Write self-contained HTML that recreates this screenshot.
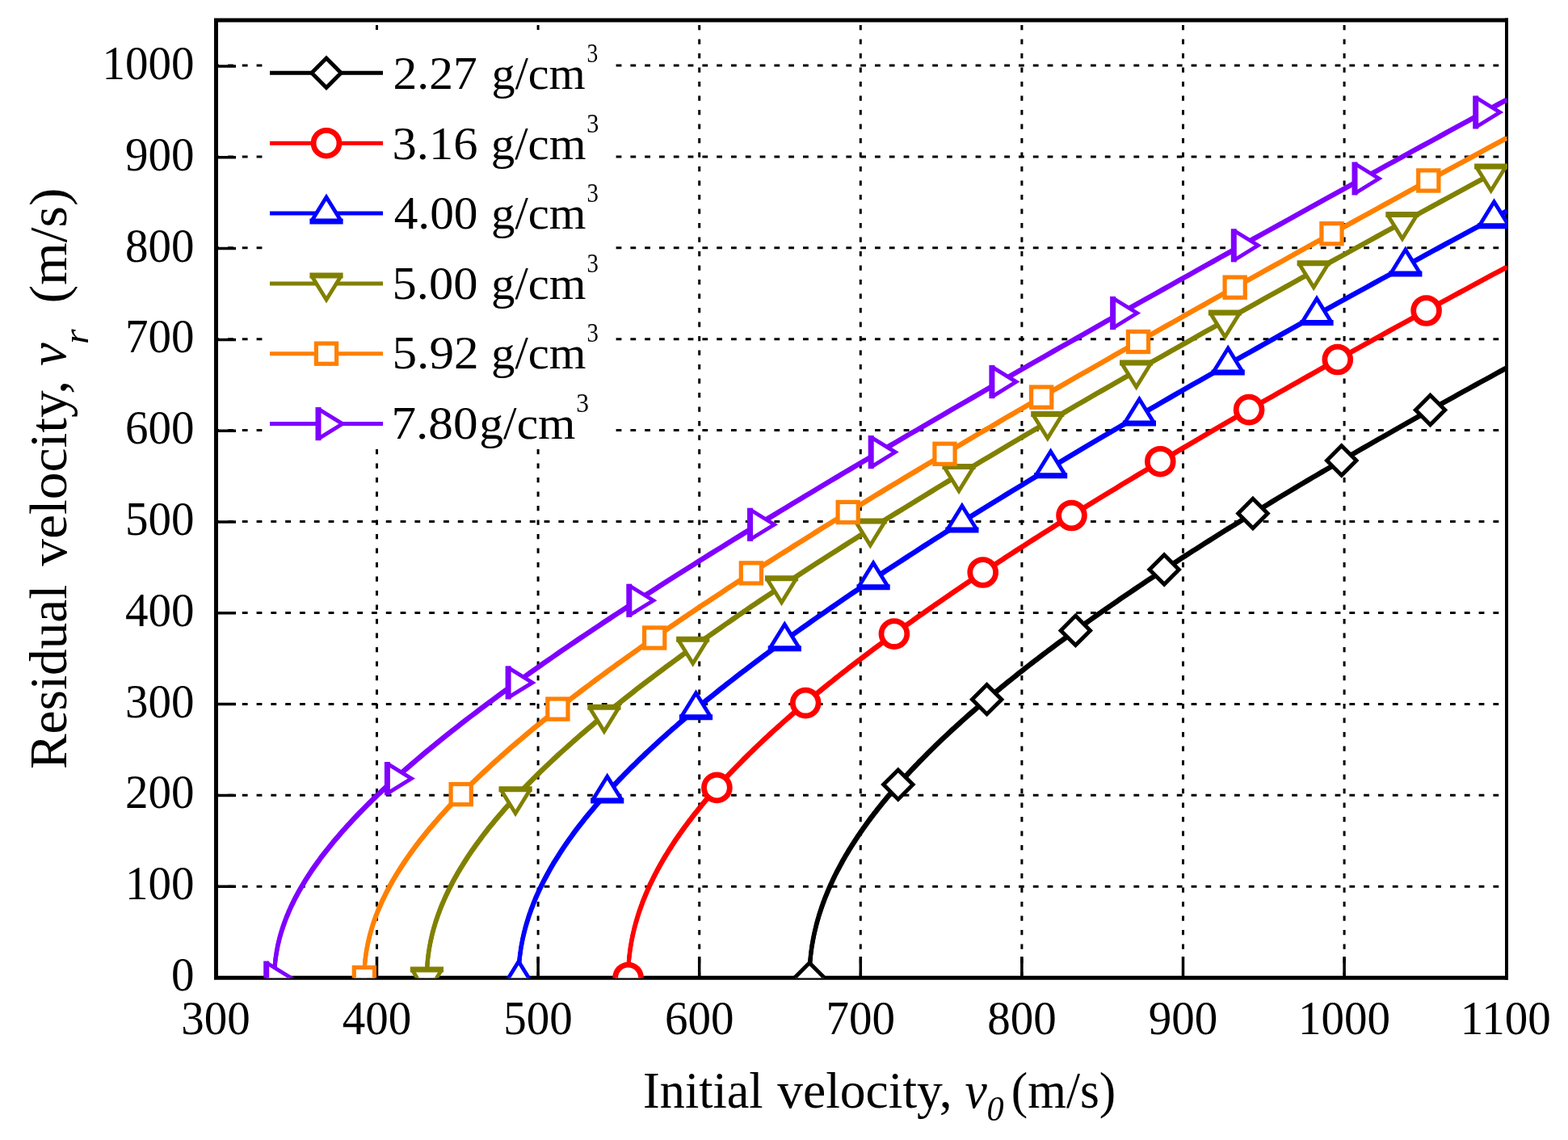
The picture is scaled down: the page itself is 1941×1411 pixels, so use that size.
<!DOCTYPE html>
<html><head><meta charset="utf-8"><title>Residual velocity vs initial velocity</title>
<style>
html,body{margin:0;padding:0;background:#fff;overflow:hidden;}
svg{display:block;}
text{font-family:"Liberation Serif","Times New Roman",serif;fill:#000;white-space:pre;}
</style></head><body>
<svg width="1941" height="1411" viewBox="0 0 1941 1411">
<rect width="1941" height="1411" fill="#fff"/>
<defs><clipPath id="pa"><rect x="267.5" y="25" width="1598.5" height="1185.5"/></clipPath></defs>
<path d="M466.5 27.5V1207.5M666.1 27.5V1207.5M865.7 27.5V1207.5M1065.3 27.5V1207.5M1264.9 27.5V1207.5M1464.5 27.5V1207.5M1664.1 27.5V1207.5" stroke="#000" stroke-width="3.0" stroke-dasharray="6.3 11.2" fill="none" stroke-dashoffset="-3.4"/>
<path d="M270 1097.2H1862.5M270 984.3H1862.5M270 871.4H1862.5M270 758.5H1862.5M270 645.5H1862.5M270 532.6H1862.5M270 419.7H1862.5M270 306.8H1862.5M270 193.9H1862.5M270 81H1862.5" stroke="#000" stroke-width="3.0" stroke-dasharray="6.8 11" fill="none" stroke-dashoffset="-12"/>
<rect x="328" y="37" width="424" height="518" fill="#fff"/>
<path d="M267.5 22.5V1212.7M265 25H1867M265 1210.2H1867" stroke="#000" stroke-width="5" fill="none"/>
<path d="M1865 22.5V1212.7" stroke="#000" stroke-width="4" fill="none"/>
<path d="M466.5 1184V1208M666.1 1184V1208M865.7 1184V1208M1065.3 1184V1208M1264.9 1184V1208M1464.5 1184V1208M1664.1 1184V1208M269 1097.2H292M269 984.4H292M269 871.6H292M269 758.8H292M269 646H292M269 533.2H292M269 420.4H292M269 307.6H292M269 194.8H292M269 82H292" stroke="#000" stroke-width="3.5" fill="none"/>
<g clip-path="url(#pa)">
<defs><path id="c_black" d="M1002 1210L1002.1 1207.5L1002.1 1204.9L1002.2 1202.4L1002.3 1199.8L1002.4 1197.3L1002.5 1194.8L1002.7 1192.2L1002.9 1189.7L1003.1 1187.2L1003.3 1184.6L1003.6 1182.1L1003.9 1179.5L1004.2 1177L1004.6 1174.5L1004.9 1171.9L1005.3 1169.4L1005.8 1166.9L1006.2 1164.3L1006.7 1161.8L1007.2 1159.2L1007.7 1156.7L1008.3 1154.1L1008.9 1151.6L1009.5 1149.1L1010.1 1146.5L1010.7 1144L1011.4 1141.4L1012.1 1138.9L1012.9 1136.3L1013.6 1133.8L1014.4 1131.2L1015.2 1128.7L1016.1 1126.1L1016.9 1123.6L1017.8 1121L1018.7 1118.4L1019.7 1115.9L1020.6 1113.3L1021.6 1110.8L1022.6 1108.2L1023.7 1105.6L1024.7 1103.1L1025.8 1100.5L1027 1097.9L1028.1 1095.4L1029.3 1092.8L1030.5 1090.2L1031.7 1087.7L1032.9 1085.1L1034.2 1082.5L1035.5 1079.9L1036.8 1077.3L1038.2 1074.8L1039.6 1072.2L1041 1069.6L1042.4 1067L1043.8 1064.4L1045.3 1061.8L1046.8 1059.2L1048.4 1056.6L1049.9 1054L1051.5 1051.4L1053.1 1048.8L1054.7 1046.2L1056.4 1043.6L1058.1 1041L1059.8 1038.4L1061.5 1035.8L1063.3 1033.1L1065.1 1030.5L1066.9 1027.9L1068.7 1025.3L1070.6 1022.6L1072.5 1020L1074.4 1017.4L1076.3 1014.7L1078.3 1012.1L1080.3 1009.5L1082.3 1006.8L1084.4 1004.2L1086.4 1001.5L1088.5 998.9L1090.7 996.2L1092.8 993.6L1095 990.9L1097.2 988.2L1099.4 985.6L1101.7 982.9L1103.9 980.2L1106.2 977.5L1108.6 974.9L1110.9 972.2L1113.3 969.5L1115.7 966.8L1118.1 964.1L1120.6 961.4L1123.1 958.7L1125.6 956L1128.1 953.3L1130.7 950.6L1133.3 947.9L1135.9 945.2L1138.5 942.4L1141.2 939.7L1143.9 937L1146.6 934.2L1149.3 931.5L1152.1 928.8L1154.9 926L1157.7 923.3L1160.5 920.5L1163.4 917.8L1166.3 915L1169.2 912.3L1172.2 909.5L1175.1 906.7L1178.1 903.9L1181.2 901.2L1184.2 898.4L1187.3 895.6L1190.4 892.8L1193.5 890L1196.7 887.2L1199.8 884.4L1203 881.6L1206.3 878.8L1209.5 876L1212.8 873.2L1216.1 870.3L1219.4 867.5L1222.8 864.7L1226.2 861.8L1229.6 859L1233 856.1L1236.5 853.3L1240 850.4L1243.5 847.6L1247 844.7L1250.6 841.8L1254.2 839L1257.8 836.1L1261.4 833.2L1265.1 830.3L1268.8 827.4L1272.5 824.5L1276.2 821.6L1280 818.7L1283.8 815.8L1287.6 812.9L1291.5 809.9L1295.3 807L1299.2 804.1L1303.2 801.1L1307.1 798.2L1311.1 795.2L1315.1 792.3L1319.1 789.3L1323.2 786.4L1327.2 783.4L1331.3 780.4L1335.5 777.4L1339.6 774.4L1343.8 771.5L1348 768.5L1352.2 765.5L1356.5 762.4L1360.8 759.4L1365.1 756.4L1369.4 753.4L1373.8 750.4L1378.2 747.3L1382.6 744.3L1387 741.2L1391.5 738.2L1396 735.1L1400.5 732.1L1405 729L1409.6 725.9L1414.2 722.8L1418.8 719.7L1423.4 716.6L1428.1 713.6L1432.8 710.4L1437.5 707.3L1442.3 704.2L1447.1 701.1L1451.8 698L1456.7 694.8L1461.5 691.7L1466.4 688.5L1471.3 685.4L1476.2 682.2L1481.2 679.1L1486.2 675.9L1491.2 672.7L1496.2 669.5L1501.2 666.3L1506.3 663.1L1511.4 659.9L1516.6 656.7L1521.7 653.5L1526.9 650.3L1532.1 647.1L1537.3 643.8L1542.6 640.6L1547.9 637.3L1553.2 634.1L1558.5 630.8L1563.9 627.6L1569.3 624.3L1574.7 621L1580.2 617.7L1585.6 614.4L1591.1 611.1L1596.6 607.8L1602.2 604.5L1607.7 601.2L1613.3 597.9L1619 594.5L1624.6 591.2L1630.3 587.8L1636 584.5L1641.7 581.1L1647.5 577.8L1653.2 574.4L1659 571L1664.9 567.6L1670.7 564.2L1676.6 560.8L1682.5 557.4L1688.4 554L1694.4 550.6L1700.4 547.1L1706.4 543.7L1712.4 540.3L1718.5 536.8L1724.5 533.3L1730.6 529.9L1736.8 526.4L1742.9 522.9L1749.1 519.4L1755.3 515.9L1761.6 512.4L1767.8 508.9L1774.1 505.4L1780.5 501.9L1786.8 498.4L1793.2 494.8L1799.6 491.3L1806 487.7L1812.4 484.2L1818.9 480.6L1825.4 477L1831.9 473.4L1838.5 469.9L1845 466.3L1851.6 462.6L1858.2 459L1864.9 455.4"/></defs><g fill="none" stroke="#000000" stroke-linejoin="round"><use href="#c_black" stroke-width="5.0"/><g stroke-width="1.4"><use href="#c_black" x="-1.8" y="-1.8"/><use href="#c_black" x="1.8" y="1.8"/><use href="#c_black" x="-1.8" y="1.8"/><use href="#c_black" x="1.8" y="-1.8"/></g></g>
<g fill="#fff"><path d="M1002 1191.8L1020.3 1210L1002 1228.2L983.8 1210Z"/><path d="M1111.8 952.9L1130.1 971.1L1111.8 989.4L1093.6 971.1Z"/><path d="M1221.6 847.4L1239.9 865.7L1221.6 883.9L1203.4 865.7Z"/><path d="M1331.4 762.1L1349.6 780.4L1331.4 798.6L1313.1 780.4Z"/><path d="M1441.2 686.7L1459.4 704.9L1441.2 723.2L1422.9 704.9Z"/><path d="M1550.9 617.2L1569.2 635.5L1550.9 653.7L1532.7 635.5Z"/><path d="M1660.7 551.8L1679 570L1660.7 588.3L1642.5 570Z"/><path d="M1770.5 489.2L1788.8 507.4L1770.5 525.7L1752.3 507.4Z"/></g><g fill="none" stroke="#000000"><path d="M1002 1191.8L1020.3 1210L1002 1228.2L983.8 1210Z" stroke-width="4.9" stroke-linejoin="miter"/><path d="M1111.8 952.9L1130.1 971.1L1111.8 989.4L1093.6 971.1Z" stroke-width="4.9" stroke-linejoin="miter"/><path d="M1221.6 847.4L1239.9 865.7L1221.6 883.9L1203.4 865.7Z" stroke-width="4.9" stroke-linejoin="miter"/><path d="M1331.4 762.1L1349.6 780.4L1331.4 798.6L1313.1 780.4Z" stroke-width="4.9" stroke-linejoin="miter"/><path d="M1441.2 686.7L1459.4 704.9L1441.2 723.2L1422.9 704.9Z" stroke-width="4.9" stroke-linejoin="miter"/><path d="M1550.9 617.2L1569.2 635.5L1550.9 653.7L1532.7 635.5Z" stroke-width="4.9" stroke-linejoin="miter"/><path d="M1660.7 551.8L1679 570L1660.7 588.3L1642.5 570Z" stroke-width="4.9" stroke-linejoin="miter"/><path d="M1770.5 489.2L1788.8 507.4L1770.5 525.7L1752.3 507.4Z" stroke-width="4.9" stroke-linejoin="miter"/></g>
<defs><path id="c_red" d="M777.6 1210L777.6 1207.2L777.7 1204.4L777.7 1201.6L777.9 1198.7L778 1195.9L778.2 1193.1L778.4 1190.3L778.6 1187.5L778.9 1184.7L779.2 1181.9L779.6 1179.1L779.9 1176.3L780.3 1173.5L780.8 1170.7L781.2 1167.9L781.7 1165.1L782.3 1162.3L782.8 1159.5L783.4 1156.7L784.1 1153.9L784.7 1151.1L785.4 1148.3L786.2 1145.5L786.9 1142.7L787.7 1139.9L788.6 1137.1L789.4 1134.3L790.3 1131.5L791.2 1128.6L792.2 1125.8L793.2 1123L794.2 1120.2L795.2 1117.4L796.3 1114.5L797.5 1111.7L798.6 1108.9L799.8 1106.1L801 1103.2L802.2 1100.4L803.5 1097.6L804.8 1094.7L806.2 1091.9L807.6 1089.1L809 1086.2L810.4 1083.4L811.9 1080.5L813.4 1077.7L814.9 1074.8L816.5 1072L818.1 1069.1L819.8 1066.2L821.4 1063.4L823.1 1060.5L824.9 1057.6L826.6 1054.8L828.4 1051.9L830.3 1049L832.1 1046.1L834 1043.2L835.9 1040.3L837.9 1037.4L839.9 1034.5L841.9 1031.6L844 1028.7L846.1 1025.8L848.2 1022.9L850.4 1020L852.5 1017.1L854.8 1014.2L857 1011.2L859.3 1008.3L861.6 1005.4L864 1002.4L866.4 999.5L868.8 996.5L871.2 993.6L873.7 990.6L876.2 987.7L878.8 984.7L881.3 981.7L883.9 978.7L886.6 975.8L889.3 972.8L892 969.8L894.7 966.8L897.5 963.8L900.3 960.8L903.1 957.8L906 954.8L908.9 951.8L911.8 948.7L914.8 945.7L917.8 942.7L920.8 939.6L923.9 936.6L927 933.5L930.1 930.5L933.3 927.4L936.5 924.3L939.7 921.3L942.9 918.2L946.2 915.1L949.6 912L952.9 908.9L956.3 905.8L959.7 902.7L963.2 899.6L966.7 896.5L970.2 893.3L973.7 890.2L977.3 887.1L980.9 883.9L984.6 880.8L988.2 877.6L992 874.5L995.7 871.3L999.5 868.1L1003.3 864.9L1007.1 861.7L1011 858.5L1014.9 855.3L1018.8 852.1L1022.8 848.9L1026.8 845.7L1030.9 842.5L1034.9 839.2L1039 836L1043.2 832.7L1047.3 829.5L1051.5 826.2L1055.8 822.9L1060 819.6L1064.3 816.4L1068.6 813.1L1073 809.8L1077.4 806.5L1081.8 803.1L1086.3 799.8L1090.8 796.5L1095.3 793.1L1099.8 789.8L1104.4 786.4L1109 783.1L1113.7 779.7L1118.4 776.3L1123.1 772.9L1127.9 769.6L1132.6 766.2L1137.4 762.7L1142.3 759.3L1147.2 755.9L1152.1 752.5L1157 749L1162 745.6L1167 742.1L1172.1 738.7L1177.1 735.2L1182.2 731.7L1187.4 728.2L1192.5 724.7L1197.7 721.2L1203 717.7L1208.2 714.2L1213.5 710.6L1218.9 707.1L1224.2 703.5L1229.6 700L1235.1 696.4L1240.5 692.8L1246 689.2L1251.6 685.6L1257.1 682L1262.7 678.4L1268.3 674.8L1274 671.2L1279.7 667.5L1285.4 663.9L1291.2 660.2L1296.9 656.6L1302.8 652.9L1308.6 649.2L1314.5 645.5L1320.4 641.8L1326.4 638.1L1332.3 634.4L1338.4 630.6L1344.4 626.9L1350.5 623.1L1356.6 619.4L1362.7 615.6L1368.9 611.8L1375.1 608.1L1381.4 604.3L1387.6 600.4L1393.9 596.6L1400.3 592.8L1406.6 589L1413 585.1L1419.5 581.3L1425.9 577.4L1432.4 573.5L1439 569.6L1445.5 565.7L1452.1 561.8L1458.8 557.9L1465.4 554L1472.1 550.1L1478.9 546.1L1485.6 542.1L1492.4 538.2L1499.2 534.2L1506.1 530.2L1513 526.2L1519.9 522.2L1526.8 518.2L1533.8 514.2L1540.9 510.1L1547.9 506.1L1555 502L1562.1 497.9L1569.2 493.9L1576.4 489.8L1583.6 485.7L1590.9 481.6L1598.2 477.4L1605.5 473.3L1612.8 469.2L1620.2 465L1627.6 460.8L1635 456.7L1642.5 452.5L1650 448.3L1657.6 444.1L1665.1 439.9L1672.7 435.6L1680.4 431.4L1688 427.1L1695.7 422.9L1703.5 418.6L1711.2 414.3L1719 410L1726.8 405.7L1734.7 401.4L1742.6 397.1L1750.5 392.7L1758.5 388.4L1766.5 384L1774.5 379.6L1782.6 375.2L1790.6 370.8L1798.8 366.4L1806.9 362L1815.1 357.6L1823.3 353.1L1831.6 348.7L1839.9 344.2L1848.2 339.7L1856.5 335.3L1864.9 330.8"/></defs><g fill="none" stroke="#FF0000" stroke-linejoin="round"><use href="#c_red" stroke-width="5.0"/><g stroke-width="1.4"><use href="#c_red" x="-1.8" y="-1.8"/><use href="#c_red" x="1.8" y="1.8"/><use href="#c_red" x="-1.8" y="1.8"/><use href="#c_red" x="1.8" y="-1.8"/></g></g>
<g fill="#fff"><circle cx="777.6" cy="1210" r="15.9"/><circle cx="887.4" cy="974.9" r="15.9"/><circle cx="997.2" cy="870.1" r="15.9"/><circle cx="1106.9" cy="784.6" r="15.9"/><circle cx="1216.7" cy="708.5" r="15.9"/><circle cx="1326.5" cy="638" r="15.9"/><circle cx="1436.3" cy="571.2" r="15.9"/><circle cx="1546.1" cy="507.1" r="15.9"/><circle cx="1655.8" cy="445" r="15.9"/><circle cx="1765.6" cy="384.5" r="15.9"/></g><g fill="none" stroke="#FF0000"><circle cx="777.6" cy="1210" r="15.9" stroke-width="6.8"/><circle cx="887.4" cy="974.9" r="15.9" stroke-width="6.8"/><circle cx="997.2" cy="870.1" r="15.9" stroke-width="6.8"/><circle cx="1106.9" cy="784.6" r="15.9" stroke-width="6.8"/><circle cx="1216.7" cy="708.5" r="15.9" stroke-width="6.8"/><circle cx="1326.5" cy="638" r="15.9" stroke-width="6.8"/><circle cx="1436.3" cy="571.2" r="15.9" stroke-width="6.8"/><circle cx="1546.1" cy="507.1" r="15.9" stroke-width="6.8"/><circle cx="1655.8" cy="445" r="15.9" stroke-width="6.8"/><circle cx="1765.6" cy="384.5" r="15.9" stroke-width="6.8"/></g>
<defs><path id="c_blue" d="M642 1210L642 1207.1L642 1204.3L642.1 1201.4L642.2 1198.5L642.4 1195.6L642.6 1192.8L642.9 1189.9L643.1 1187L643.4 1184.1L643.8 1181.3L644.2 1178.4L644.6 1175.5L645 1172.6L645.5 1169.8L646.1 1166.9L646.6 1164L647.2 1161.1L647.9 1158.2L648.5 1155.3L649.3 1152.5L650 1149.6L650.8 1146.7L651.6 1143.8L652.5 1140.9L653.4 1138L654.3 1135.1L655.2 1132.2L656.3 1129.3L657.3 1126.4L658.4 1123.5L659.5 1120.6L660.6 1117.7L661.8 1114.8L663 1111.8L664.3 1108.9L665.6 1106L666.9 1103.1L668.3 1100.2L669.7 1097.2L671.1 1094.3L672.6 1091.4L674.1 1088.4L675.7 1085.5L677.3 1082.5L678.9 1079.6L680.5 1076.6L682.2 1073.7L684 1070.7L685.7 1067.7L687.5 1064.8L689.4 1061.8L691.3 1058.8L693.2 1055.8L695.1 1052.9L697.1 1049.9L699.1 1046.9L701.2 1043.9L703.3 1040.9L705.4 1037.9L707.6 1034.9L709.8 1031.8L712 1028.8L714.3 1025.8L716.6 1022.8L719 1019.7L721.4 1016.7L723.8 1013.6L726.3 1010.6L728.8 1007.5L731.3 1004.5L733.9 1001.4L736.5 998.3L739.1 995.2L741.8 992.2L744.5 989.1L747.3 986L750 982.9L752.9 979.8L755.7 976.7L758.6 973.5L761.6 970.4L764.5 967.3L767.5 964.1L770.6 961L773.7 957.8L776.8 954.7L779.9 951.5L783.1 948.4L786.4 945.2L789.6 942L792.9 938.8L796.3 935.6L799.6 932.4L803 929.2L806.5 926L810 922.7L813.5 919.5L817 916.3L820.6 913L824.3 909.8L827.9 906.5L831.6 903.2L835.4 900L839.1 896.7L843 893.4L846.8 890.1L850.7 886.8L854.6 883.5L858.6 880.1L862.6 876.8L866.6 873.5L870.6 870.1L874.7 866.7L878.9 863.4L883.1 860L887.3 856.6L891.5 853.2L895.8 849.8L900.1 846.4L904.5 843L908.9 839.6L913.3 836.2L917.8 832.7L922.3 829.3L926.8 825.8L931.4 822.3L936 818.8L940.7 815.4L945.3 811.9L950.1 808.4L954.8 804.8L959.6 801.3L964.4 797.8L969.3 794.2L974.2 790.7L979.2 787.1L984.1 783.5L989.1 780L994.2 776.4L999.3 772.8L1004.4 769.2L1009.6 765.5L1014.8 761.9L1020 758.3L1025.3 754.6L1030.6 751L1035.9 747.3L1041.3 743.6L1046.7 739.9L1052.2 736.2L1057.6 732.5L1063.2 728.8L1068.7 725L1074.3 721.3L1080 717.5L1085.6 713.8L1091.3 710L1097.1 706.2L1102.9 702.4L1108.7 698.6L1114.5 694.8L1120.4 691L1126.3 687.1L1132.3 683.3L1138.3 679.4L1144.3 675.5L1150.4 671.6L1156.5 667.7L1162.6 663.8L1168.8 659.9L1175 656L1181.3 652L1187.6 648.1L1193.9 644.1L1200.3 640.1L1206.7 636.2L1213.1 632.2L1219.6 628.2L1226.1 624.1L1232.6 620.1L1239.2 616.1L1245.8 612L1252.5 607.9L1259.2 603.8L1265.9 599.8L1272.7 595.6L1279.5 591.5L1286.3 587.4L1293.2 583.3L1300.1 579.1L1307 574.9L1314 570.8L1321 566.6L1328.1 562.4L1335.2 558.2L1342.3 553.9L1349.5 549.7L1356.7 545.4L1363.9 541.2L1371.2 536.9L1378.5 532.6L1385.8 528.3L1393.2 524L1400.7 519.7L1408.1 515.3L1415.6 511L1423.1 506.6L1430.7 502.3L1438.3 497.9L1445.9 493.5L1453.6 489L1461.3 484.6L1469.1 480.2L1476.9 475.7L1484.7 471.3L1492.5 466.8L1500.4 462.3L1508.4 457.8L1516.3 453.3L1524.3 448.7L1532.4 444.2L1540.4 439.6L1548.6 435.1L1556.7 430.5L1564.9 425.9L1573.1 421.3L1581.4 416.6L1589.7 412L1598 407.3L1606.4 402.7L1614.8 398L1623.2 393.3L1631.7 388.6L1640.2 383.9L1648.8 379.1L1657.3 374.4L1666 369.6L1674.6 364.9L1683.3 360.1L1692.1 355.3L1700.8 350.5L1709.6 345.6L1718.5 340.8L1727.3 335.9L1736.3 331.1L1745.2 326.2L1754.2 321.3L1763.2 316.4L1772.3 311.4L1781.4 306.5L1790.5 301.5L1799.7 296.6L1808.9 291.6L1818.1 286.6L1827.4 281.6L1836.7 276.6L1846.1 271.5L1855.5 266.5L1864.9 261.4"/></defs><g fill="none" stroke="#0000FF" stroke-linejoin="round"><use href="#c_blue" stroke-width="5.0"/><g stroke-width="1.4"><use href="#c_blue" x="-1.8" y="-1.8"/><use href="#c_blue" x="1.8" y="1.8"/><use href="#c_blue" x="-1.8" y="1.8"/><use href="#c_blue" x="1.8" y="-1.8"/></g></g>
<g fill="#fff"><path d="M642 1190L623.5 1220L660.5 1220Z"/><path d="M751.7 961L733.2 991L770.2 991Z"/><path d="M861.5 857.7L843 887.7L880 887.7Z"/><path d="M971.3 772.8L952.8 802.8L989.8 802.8Z"/><path d="M1081.1 696.8L1062.6 726.8L1099.6 726.8Z"/><path d="M1190.9 626L1172.4 656L1209.4 656Z"/><path d="M1300.6 558.8L1282.1 588.8L1319.1 588.8Z"/><path d="M1410.4 494L1391.9 524L1428.9 524Z"/><path d="M1520.2 431.1L1501.7 461.1L1538.7 461.1Z"/><path d="M1630 369.5L1611.5 399.5L1648.5 399.5Z"/><path d="M1739.8 309.1L1721.3 339.1L1758.3 339.1Z"/><path d="M1849.5 249.7L1831 279.7L1868 279.7Z"/></g><g fill="none" stroke="#0000FF"><path d="M623.5 1220L642 1190L660.5 1220" stroke-width="4.8" stroke-linejoin="miter" stroke-linecap="butt"/><path d="M621.4 1220L662.6 1220" stroke-width="7.0" stroke-linecap="butt"/><path d="M733.2 991L751.7 961L770.2 991" stroke-width="4.8" stroke-linejoin="miter" stroke-linecap="butt"/><path d="M731.1 991L772.3 991" stroke-width="7.0" stroke-linecap="butt"/><path d="M843 887.7L861.5 857.7L880 887.7" stroke-width="4.8" stroke-linejoin="miter" stroke-linecap="butt"/><path d="M840.9 887.7L882.1 887.7" stroke-width="7.0" stroke-linecap="butt"/><path d="M952.8 802.8L971.3 772.8L989.8 802.8" stroke-width="4.8" stroke-linejoin="miter" stroke-linecap="butt"/><path d="M950.7 802.8L991.9 802.8" stroke-width="7.0" stroke-linecap="butt"/><path d="M1062.6 726.8L1081.1 696.8L1099.6 726.8" stroke-width="4.8" stroke-linejoin="miter" stroke-linecap="butt"/><path d="M1060.5 726.8L1101.7 726.8" stroke-width="7.0" stroke-linecap="butt"/><path d="M1172.4 656L1190.9 626L1209.4 656" stroke-width="4.8" stroke-linejoin="miter" stroke-linecap="butt"/><path d="M1170.3 656L1211.5 656" stroke-width="7.0" stroke-linecap="butt"/><path d="M1282.1 588.8L1300.6 558.8L1319.1 588.8" stroke-width="4.8" stroke-linejoin="miter" stroke-linecap="butt"/><path d="M1280 588.8L1321.2 588.8" stroke-width="7.0" stroke-linecap="butt"/><path d="M1391.9 524L1410.4 494L1428.9 524" stroke-width="4.8" stroke-linejoin="miter" stroke-linecap="butt"/><path d="M1389.8 524L1431 524" stroke-width="7.0" stroke-linecap="butt"/><path d="M1501.7 461.1L1520.2 431.1L1538.7 461.1" stroke-width="4.8" stroke-linejoin="miter" stroke-linecap="butt"/><path d="M1499.6 461.1L1540.8 461.1" stroke-width="7.0" stroke-linecap="butt"/><path d="M1611.5 399.5L1630 369.5L1648.5 399.5" stroke-width="4.8" stroke-linejoin="miter" stroke-linecap="butt"/><path d="M1609.4 399.5L1650.6 399.5" stroke-width="7.0" stroke-linecap="butt"/><path d="M1721.3 339.1L1739.8 309.1L1758.3 339.1" stroke-width="4.8" stroke-linejoin="miter" stroke-linecap="butt"/><path d="M1719.2 339.1L1760.4 339.1" stroke-width="7.0" stroke-linecap="butt"/><path d="M1831 279.7L1849.5 249.7L1868 279.7" stroke-width="4.8" stroke-linejoin="miter" stroke-linecap="butt"/><path d="M1828.9 279.7L1870.1 279.7" stroke-width="7.0" stroke-linecap="butt"/></g>
<defs><path id="c_olive" d="M528.4 1210L528.4 1207.1L528.4 1204.1L528.5 1201.2L528.7 1198.3L528.9 1195.3L529.1 1192.4L529.3 1189.5L529.6 1186.5L530 1183.6L530.3 1180.7L530.8 1177.8L531.2 1174.8L531.7 1171.9L532.3 1169L532.8 1166L533.5 1163.1L534.1 1160.2L534.8 1157.2L535.5 1154.3L536.3 1151.4L537.1 1148.4L538 1145.5L538.9 1142.5L539.8 1139.6L540.8 1136.7L541.8 1133.7L542.9 1130.8L544 1127.8L545.1 1124.8L546.3 1121.9L547.5 1118.9L548.8 1116L550.1 1113L551.4 1110L552.8 1107L554.2 1104.1L555.6 1101.1L557.1 1098.1L558.7 1095.1L560.2 1092.1L561.8 1089.1L563.5 1086.1L565.2 1083.1L566.9 1080.1L568.7 1077.1L570.5 1074.1L572.4 1071.1L574.3 1068L576.2 1065L578.2 1062L580.2 1058.9L582.2 1055.9L584.3 1052.8L586.5 1049.8L588.6 1046.7L590.8 1043.7L593.1 1040.6L595.4 1037.5L597.7 1034.4L600.1 1031.3L602.5 1028.2L604.9 1025.1L607.4 1022L610 1018.9L612.5 1015.8L615.1 1012.7L617.8 1009.6L620.5 1006.4L623.2 1003.3L626 1000.1L628.8 997L631.6 993.8L634.5 990.6L637.5 987.5L640.4 984.3L643.4 981.1L646.5 977.9L649.6 974.7L652.7 971.5L655.9 968.3L659.1 965L662.3 961.8L665.6 958.6L668.9 955.3L672.3 952L675.7 948.8L679.2 945.5L682.6 942.2L686.2 938.9L689.7 935.6L693.3 932.3L697 929L700.7 925.7L704.4 922.4L708.2 919L712 915.7L715.8 912.3L719.7 908.9L723.6 905.6L727.6 902.2L731.6 898.8L735.6 895.4L739.7 891.9L743.9 888.5L748 885.1L752.2 881.6L756.5 878.2L760.8 874.7L765.1 871.3L769.4 867.8L773.8 864.3L778.3 860.8L782.8 857.3L787.3 853.7L791.9 850.2L796.5 846.7L801.1 843.1L805.8 839.6L810.5 836L815.3 832.4L820.1 828.8L824.9 825.2L829.8 821.6L834.7 818L839.7 814.3L844.7 810.7L849.7 807L854.8 803.3L859.9 799.6L865.1 796L870.3 792.2L875.5 788.5L880.8 784.8L886.1 781.1L891.5 777.3L896.9 773.5L902.3 769.8L907.8 766L913.3 762.2L918.9 758.4L924.5 754.5L930.1 750.7L935.8 746.9L941.5 743L947.3 739.1L953.1 735.3L958.9 731.4L964.8 727.5L970.7 723.5L976.7 719.6L982.6 715.7L988.7 711.7L994.8 707.7L1000.9 703.7L1007 699.7L1013.2 695.7L1019.5 691.7L1025.7 687.7L1032.1 683.6L1038.4 679.6L1044.8 675.5L1051.2 671.4L1057.7 667.3L1064.2 663.2L1070.8 659.1L1077.4 654.9L1084 650.8L1090.7 646.6L1097.4 642.4L1104.2 638.2L1111 634L1117.8 629.8L1124.7 625.6L1131.6 621.3L1138.5 617.1L1145.5 612.8L1152.6 608.5L1159.6 604.2L1166.7 599.9L1173.9 595.5L1181.1 591.2L1188.3 586.8L1195.6 582.4L1202.9 578.1L1210.3 573.7L1217.7 569.2L1225.1 564.8L1232.6 560.4L1240.1 555.9L1247.6 551.4L1255.2 546.9L1262.8 542.4L1270.5 537.9L1278.2 533.4L1286 528.8L1293.8 524.3L1301.6 519.7L1309.5 515.1L1317.4 510.5L1325.3 505.9L1333.3 501.2L1341.3 496.6L1349.4 491.9L1357.5 487.2L1365.7 482.5L1373.9 477.8L1382.1 473.1L1390.4 468.3L1398.7 463.6L1407 458.8L1415.4 454L1423.8 449.2L1432.3 444.4L1440.8 439.6L1449.4 434.7L1457.9 429.8L1466.6 425L1475.2 420.1L1483.9 415.2L1492.7 410.2L1501.5 405.3L1510.3 400.3L1519.2 395.3L1528.1 390.4L1537 385.3L1546 380.3L1555 375.3L1564.1 370.2L1573.2 365.2L1582.4 360.1L1591.5 355L1600.8 349.9L1610 344.7L1619.3 339.6L1628.7 334.4L1638.1 329.2L1647.5 324L1656.9 318.8L1666.5 313.6L1676 308.3L1685.6 303.1L1695.2 297.8L1704.9 292.5L1714.6 287.2L1724.3 281.8L1734.1 276.5L1743.9 271.1L1753.8 265.8L1763.7 260.4L1773.6 255L1783.6 249.5L1793.6 244.1L1803.7 238.6L1813.8 233.1L1823.9 227.6L1834.1 222.1L1844.3 216.6L1854.6 211.1L1864.9 205.5"/></defs><g fill="none" stroke="#808000" stroke-linejoin="round"><use href="#c_olive" stroke-width="5.0"/><g stroke-width="1.4"><use href="#c_olive" x="-1.8" y="-1.8"/><use href="#c_olive" x="1.8" y="1.8"/><use href="#c_olive" x="-1.8" y="1.8"/><use href="#c_olive" x="1.8" y="-1.8"/></g></g>
<g fill="#fff"><path d="M528.4 1230L546.9 1200L509.9 1200Z"/><path d="M638.1 1006.7L656.6 976.7L619.6 976.7Z"/><path d="M747.9 905.2L766.4 875.2L729.4 875.2Z"/><path d="M857.7 821.2L876.2 791.2L839.2 791.2Z"/><path d="M967.5 745.7L986 715.7L949 715.7Z"/><path d="M1077.3 675L1095.8 645L1058.8 645Z"/><path d="M1187 607.6L1205.5 577.6L1168.5 577.6Z"/><path d="M1296.8 542.5L1315.3 512.5L1278.3 512.5Z"/><path d="M1406.6 479L1425.1 449L1388.1 449Z"/><path d="M1516.4 416.9L1534.9 386.9L1497.9 386.9Z"/><path d="M1626.2 355.8L1644.7 325.8L1607.7 325.8Z"/><path d="M1735.9 295.5L1754.4 265.5L1717.4 265.5Z"/><path d="M1845.7 235.9L1864.2 205.9L1827.2 205.9Z"/></g><g fill="none" stroke="#808000"><path d="M546.9 1200L528.4 1230L509.9 1200" stroke-width="4.8" stroke-linejoin="miter" stroke-linecap="butt"/><path d="M549 1200L507.8 1200" stroke-width="7.0" stroke-linecap="butt"/><path d="M656.6 976.7L638.1 1006.7L619.6 976.7" stroke-width="4.8" stroke-linejoin="miter" stroke-linecap="butt"/><path d="M658.7 976.7L617.5 976.7" stroke-width="7.0" stroke-linecap="butt"/><path d="M766.4 875.2L747.9 905.2L729.4 875.2" stroke-width="4.8" stroke-linejoin="miter" stroke-linecap="butt"/><path d="M768.5 875.2L727.3 875.2" stroke-width="7.0" stroke-linecap="butt"/><path d="M876.2 791.2L857.7 821.2L839.2 791.2" stroke-width="4.8" stroke-linejoin="miter" stroke-linecap="butt"/><path d="M878.3 791.2L837.1 791.2" stroke-width="7.0" stroke-linecap="butt"/><path d="M986 715.7L967.5 745.7L949 715.7" stroke-width="4.8" stroke-linejoin="miter" stroke-linecap="butt"/><path d="M988.1 715.7L946.9 715.7" stroke-width="7.0" stroke-linecap="butt"/><path d="M1095.8 645L1077.3 675L1058.8 645" stroke-width="4.8" stroke-linejoin="miter" stroke-linecap="butt"/><path d="M1097.9 645L1056.7 645" stroke-width="7.0" stroke-linecap="butt"/><path d="M1205.5 577.6L1187 607.6L1168.5 577.6" stroke-width="4.8" stroke-linejoin="miter" stroke-linecap="butt"/><path d="M1207.6 577.6L1166.4 577.6" stroke-width="7.0" stroke-linecap="butt"/><path d="M1315.3 512.5L1296.8 542.5L1278.3 512.5" stroke-width="4.8" stroke-linejoin="miter" stroke-linecap="butt"/><path d="M1317.4 512.5L1276.2 512.5" stroke-width="7.0" stroke-linecap="butt"/><path d="M1425.1 449L1406.6 479L1388.1 449" stroke-width="4.8" stroke-linejoin="miter" stroke-linecap="butt"/><path d="M1427.2 449L1386 449" stroke-width="7.0" stroke-linecap="butt"/><path d="M1534.9 386.9L1516.4 416.9L1497.9 386.9" stroke-width="4.8" stroke-linejoin="miter" stroke-linecap="butt"/><path d="M1537 386.9L1495.8 386.9" stroke-width="7.0" stroke-linecap="butt"/><path d="M1644.7 325.8L1626.2 355.8L1607.7 325.8" stroke-width="4.8" stroke-linejoin="miter" stroke-linecap="butt"/><path d="M1646.8 325.8L1605.6 325.8" stroke-width="7.0" stroke-linecap="butt"/><path d="M1754.4 265.5L1735.9 295.5L1717.4 265.5" stroke-width="4.8" stroke-linejoin="miter" stroke-linecap="butt"/><path d="M1756.5 265.5L1715.3 265.5" stroke-width="7.0" stroke-linecap="butt"/><path d="M1864.2 205.9L1845.7 235.9L1827.2 205.9" stroke-width="4.8" stroke-linejoin="miter" stroke-linecap="butt"/><path d="M1866.3 205.9L1825.1 205.9" stroke-width="7.0" stroke-linecap="butt"/></g>
<defs><path id="c_orange" d="M450.9 1210L450.9 1207.1L451 1204.2L451.1 1201.4L451.2 1198.5L451.4 1195.6L451.7 1192.7L451.9 1189.8L452.2 1186.9L452.6 1184L453 1181.1L453.4 1178.2L453.9 1175.3L454.5 1172.4L455 1169.5L455.6 1166.6L456.3 1163.7L457 1160.7L457.7 1157.8L458.5 1154.9L459.3 1152L460.2 1149.1L461.1 1146.1L462 1143.2L463 1140.3L464.1 1137.3L465.1 1134.4L466.3 1131.5L467.4 1128.5L468.6 1125.6L469.9 1122.6L471.2 1119.7L472.5 1116.7L473.8 1113.7L475.3 1110.8L476.7 1107.8L478.2 1104.8L479.8 1101.8L481.3 1098.8L483 1095.9L484.6 1092.9L486.3 1089.9L488.1 1086.9L489.9 1083.8L491.7 1080.8L493.6 1077.8L495.5 1074.8L497.5 1071.8L499.5 1068.7L501.5 1065.7L503.6 1062.6L505.7 1059.6L507.9 1056.5L510.1 1053.5L512.4 1050.4L514.7 1047.3L517 1044.2L519.4 1041.1L521.8 1038L524.3 1034.9L526.8 1031.8L529.3 1028.7L531.9 1025.6L534.6 1022.4L537.2 1019.3L540 1016.2L542.7 1013L545.5 1009.8L548.4 1006.7L551.3 1003.5L554.2 1000.3L557.2 997.1L560.2 993.9L563.2 990.7L566.3 987.5L569.5 984.3L572.6 981.1L575.9 977.8L579.1 974.6L582.4 971.3L585.8 968L589.2 964.8L592.6 961.5L596.1 958.2L599.6 954.9L603.2 951.6L606.8 948.2L610.4 944.9L614.1 941.6L617.9 938.2L621.6 934.9L625.4 931.5L629.3 928.1L633.2 924.7L637.1 921.3L641.1 917.9L645.2 914.5L649.2 911.1L653.3 907.6L657.5 904.2L661.7 900.7L665.9 897.3L670.2 893.8L674.5 890.3L678.9 886.8L683.3 883.3L687.7 879.7L692.2 876.2L696.8 872.6L701.3 869.1L706 865.5L710.6 861.9L715.3 858.3L720.1 854.7L724.8 851.1L729.7 847.5L734.5 843.8L739.4 840.2L744.4 836.5L749.4 832.8L754.4 829.2L759.5 825.5L764.6 821.7L769.8 818L775 814.3L780.3 810.5L785.5 806.8L790.9 803L796.3 799.2L801.7 795.4L807.1 791.6L812.6 787.8L818.2 783.9L823.8 780.1L829.4 776.2L835.1 772.3L840.8 768.4L846.5 764.5L852.3 760.6L858.2 756.7L864 752.7L870 748.7L875.9 744.8L881.9 740.8L888 736.8L894.1 732.8L900.2 728.7L906.4 724.7L912.6 720.6L918.9 716.6L925.2 712.5L931.5 708.4L937.9 704.3L944.3 700.1L950.8 696L957.3 691.8L963.9 687.7L970.5 683.5L977.1 679.3L983.8 675L990.5 670.8L997.3 666.6L1004.1 662.3L1010.9 658L1017.8 653.7L1024.8 649.4L1031.7 645.1L1038.8 640.8L1045.8 636.4L1052.9 632L1060.1 627.7L1067.3 623.3L1074.5 618.9L1081.8 614.4L1089.1 610L1096.4 605.5L1103.8 601L1111.3 596.6L1118.8 592L1126.3 587.5L1133.9 583L1141.5 578.4L1149.1 573.9L1156.8 569.3L1164.5 564.7L1172.3 560L1180.1 555.4L1188 550.8L1195.9 546.1L1203.9 541.4L1211.8 536.7L1219.9 532L1228 527.3L1236.1 522.5L1244.2 517.7L1252.4 513L1260.7 508.2L1269 503.4L1277.3 498.5L1285.6 493.7L1294.1 488.8L1302.5 483.9L1311 479L1319.5 474.1L1328.1 469.2L1336.7 464.2L1345.4 459.3L1354.1 454.3L1362.9 449.3L1371.6 444.3L1380.5 439.2L1389.4 434.2L1398.3 429.1L1407.2 424L1416.2 418.9L1425.3 413.8L1434.4 408.7L1443.5 403.5L1452.7 398.3L1461.9 393.1L1471.1 387.9L1480.4 382.7L1489.8 377.5L1499.1 372.2L1508.6 366.9L1518 361.6L1527.5 356.3L1537.1 351L1546.7 345.7L1556.3 340.3L1566 334.9L1575.7 329.5L1585.5 324.1L1595.3 318.6L1605.1 313.2L1615 307.7L1624.9 302.2L1634.9 296.7L1644.9 291.2L1655 285.7L1665 280.1L1675.2 274.5L1685.4 268.9L1695.6 263.3L1705.9 257.7L1716.2 252L1726.5 246.3L1736.9 240.6L1747.3 234.9L1757.8 229.2L1768.3 223.5L1778.9 217.7L1789.5 211.9L1800.1 206.1L1810.8 200.3L1821.6 194.5L1832.3 188.6L1843.1 182.7L1854 176.8L1864.9 170.9"/></defs><g fill="none" stroke="#FF8000" stroke-linejoin="round"><use href="#c_orange" stroke-width="5.0"/><g stroke-width="1.4"><use href="#c_orange" x="-1.8" y="-1.8"/><use href="#c_orange" x="1.8" y="1.8"/><use href="#c_orange" x="-1.8" y="1.8"/><use href="#c_orange" x="1.8" y="-1.8"/></g></g>
<g fill="#fff"><rect x="438.3" y="1197.4" width="25.2" height="25.2"/><rect x="558.1" y="970.5" width="25.2" height="25.2"/><rect x="677.8" y="865" width="25.2" height="25.2"/><rect x="797.6" y="776.9" width="25.2" height="25.2"/><rect x="917.3" y="696.8" width="25.2" height="25.2"/><rect x="1037.1" y="621.4" width="25.2" height="25.2"/><rect x="1156.9" y="549.2" width="25.2" height="25.2"/><rect x="1276.6" y="479" width="25.2" height="25.2"/><rect x="1396.4" y="410.4" width="25.2" height="25.2"/><rect x="1516.1" y="343.1" width="25.2" height="25.2"/><rect x="1635.9" y="276.6" width="25.2" height="25.2"/><rect x="1755.7" y="210.9" width="25.2" height="25.2"/></g><g fill="none" stroke="#FF8000"><rect x="438.3" y="1197.4" width="25.2" height="25.2" stroke-width="5.2" stroke-linejoin="miter"/><rect x="558.1" y="970.5" width="25.2" height="25.2" stroke-width="5.2" stroke-linejoin="miter"/><rect x="677.8" y="865" width="25.2" height="25.2" stroke-width="5.2" stroke-linejoin="miter"/><rect x="797.6" y="776.9" width="25.2" height="25.2" stroke-width="5.2" stroke-linejoin="miter"/><rect x="917.3" y="696.8" width="25.2" height="25.2" stroke-width="5.2" stroke-linejoin="miter"/><rect x="1037.1" y="621.4" width="25.2" height="25.2" stroke-width="5.2" stroke-linejoin="miter"/><rect x="1156.9" y="549.2" width="25.2" height="25.2" stroke-width="5.2" stroke-linejoin="miter"/><rect x="1276.6" y="479" width="25.2" height="25.2" stroke-width="5.2" stroke-linejoin="miter"/><rect x="1396.4" y="410.4" width="25.2" height="25.2" stroke-width="5.2" stroke-linejoin="miter"/><rect x="1516.1" y="343.1" width="25.2" height="25.2" stroke-width="5.2" stroke-linejoin="miter"/><rect x="1635.9" y="276.6" width="25.2" height="25.2" stroke-width="5.2" stroke-linejoin="miter"/><rect x="1755.7" y="210.9" width="25.2" height="25.2" stroke-width="5.2" stroke-linejoin="miter"/></g>
<defs><path id="c_violet" d="M339.7 1210L339.7 1207.1L339.8 1204.1L339.9 1201.2L340 1198.3L340.2 1195.4L340.5 1192.5L340.8 1189.6L341.1 1186.7L341.5 1183.8L342 1180.9L342.4 1178L343 1175.1L343.5 1172.2L344.1 1169.3L344.8 1166.4L345.5 1163.5L346.2 1160.6L347 1157.7L347.9 1154.7L348.8 1151.8L349.7 1148.9L350.7 1146L351.7 1143.1L352.8 1140.2L353.9 1137.2L355 1134.3L356.3 1131.4L357.5 1128.4L358.8 1125.5L360.1 1122.5L361.5 1119.6L363 1116.6L364.4 1113.7L366 1110.7L367.5 1107.8L369.1 1104.8L370.8 1101.8L372.5 1098.8L374.3 1095.9L376.1 1092.9L377.9 1089.9L379.8 1086.9L381.7 1083.9L383.7 1080.9L385.7 1077.8L387.8 1074.8L389.9 1071.8L392.1 1068.7L394.3 1065.7L396.5 1062.6L398.8 1059.6L401.2 1056.5L403.5 1053.5L406 1050.4L408.5 1047.3L411 1044.2L413.5 1041.1L416.2 1038L418.8 1034.9L421.5 1031.7L424.3 1028.6L427.1 1025.5L429.9 1022.3L432.8 1019.2L435.7 1016L438.7 1012.8L441.7 1009.6L444.8 1006.4L447.9 1003.2L451.1 1000L454.3 996.8L457.5 993.6L460.8 990.3L464.2 987.1L467.6 983.8L471 980.6L474.5 977.3L478 974L481.6 970.7L485.2 967.4L488.9 964L492.6 960.7L496.3 957.4L500.1 954L504 950.6L507.8 947.3L511.8 943.9L515.8 940.5L519.8 937.1L523.8 933.6L528 930.2L532.1 926.8L536.3 923.3L540.6 919.8L544.9 916.4L549.2 912.9L553.6 909.4L558 905.8L562.5 902.3L567 898.8L571.6 895.2L576.2 891.6L580.9 888L585.6 884.5L590.4 880.8L595.2 877.2L600 873.6L604.9 869.9L609.8 866.3L614.8 862.6L619.8 858.9L624.9 855.2L630 851.5L635.2 847.7L640.4 844L645.6 840.2L650.9 836.5L656.3 832.7L661.7 828.9L667.1 825.1L672.6 821.2L678.1 817.4L683.7 813.5L689.3 809.6L694.9 805.7L700.6 801.8L706.4 797.9L712.2 794L718 790L723.9 786.1L729.9 782.1L735.8 778.1L741.9 774.1L747.9 770L754.1 766L760.2 761.9L766.4 757.9L772.7 753.8L779 749.7L785.3 745.5L791.7 741.4L798.1 737.2L804.6 733.1L811.2 728.9L817.7 724.7L824.3 720.4L831 716.2L837.7 711.9L844.5 707.7L851.3 703.4L858.1 699.1L865 694.7L871.9 690.4L878.9 686L885.9 681.7L893 677.3L900.1 672.9L907.3 668.4L914.5 664L921.7 659.5L929 655.1L936.4 650.6L943.8 646L951.2 641.5L958.7 637L966.2 632.4L973.8 627.8L981.4 623.2L989.1 618.6L996.8 613.9L1004.5 609.3L1012.3 604.6L1020.2 599.9L1028.1 595.2L1036 590.5L1044 585.7L1052 581L1060.1 576.2L1068.2 571.4L1076.4 566.6L1084.6 561.7L1092.8 556.9L1101.1 552L1109.5 547.1L1117.9 542.2L1126.3 537.2L1134.8 532.3L1143.3 527.3L1151.9 522.3L1160.5 517.3L1169.1 512.3L1177.9 507.2L1186.6 502.2L1195.4 497.1L1204.3 492L1213.1 486.8L1222.1 481.7L1231.1 476.5L1240.1 471.4L1249.2 466.2L1258.3 460.9L1267.4 455.7L1276.6 450.4L1285.9 445.1L1295.2 439.9L1304.5 434.5L1313.9 429.2L1323.4 423.8L1332.9 418.5L1342.4 413.1L1352 407.6L1361.6 402.2L1371.2 396.7L1380.9 391.3L1390.7 385.8L1400.5 380.2L1410.3 374.7L1420.2 369.1L1430.2 363.6L1440.1 358L1450.2 352.4L1460.2 346.7L1470.4 341.1L1480.5 335.4L1490.7 329.7L1501 324L1511.3 318.2L1521.6 312.5L1532 306.7L1542.5 300.9L1552.9 295L1563.5 289.2L1574 283.3L1584.7 277.5L1595.3 271.6L1606 265.6L1616.8 259.7L1627.6 253.7L1638.4 247.7L1649.3 241.7L1660.3 235.7L1671.2 229.6L1682.3 223.6L1693.3 217.5L1704.5 211.4L1715.6 205.2L1726.8 199.1L1738.1 192.9L1749.4 186.7L1760.7 180.5L1772.1 174.3L1783.6 168L1795 161.7L1806.6 155.4L1818.2 149.1L1829.8 142.7L1841.4 136.4L1853.1 130L1864.9 123.6"/></defs><g fill="none" stroke="#8000FF" stroke-linejoin="round"><use href="#c_violet" stroke-width="5.0"/><g stroke-width="1.4"><use href="#c_violet" x="-1.8" y="-1.8"/><use href="#c_violet" x="1.8" y="1.8"/><use href="#c_violet" x="-1.8" y="1.8"/><use href="#c_violet" x="1.8" y="-1.8"/></g></g>
<g fill="#fff"><path d="M359.7 1210L329.7 1191.5L329.7 1228.5Z"/><path d="M509.4 963.6L479.4 945.1L479.4 982.1Z"/><path d="M659.1 844.9L629.1 826.4L629.1 863.4Z"/><path d="M808.8 743.3L778.8 724.8L778.8 761.8Z"/><path d="M958.5 649.3L928.5 630.8L928.5 667.8Z"/><path d="M1108.2 559.6L1078.2 541.1L1078.2 578.1Z"/><path d="M1257.9 472.6L1227.9 454.1L1227.9 491.1Z"/><path d="M1407.6 387.5L1377.6 369L1377.6 406Z"/><path d="M1557.3 303.8L1527.3 285.3L1527.3 322.3Z"/><path d="M1707 221L1677 202.5L1677 239.5Z"/><path d="M1856.7 139L1826.7 120.5L1826.7 157.5Z"/></g><g fill="none" stroke="#8000FF"><path d="M329.7 1191.5L359.7 1210L329.7 1228.5" stroke-width="4.8" stroke-linejoin="miter" stroke-linecap="butt"/><path d="M329.7 1189.4L329.7 1230.6" stroke-width="7.0" stroke-linecap="butt"/><path d="M479.4 945.1L509.4 963.6L479.4 982.1" stroke-width="4.8" stroke-linejoin="miter" stroke-linecap="butt"/><path d="M479.4 943L479.4 984.2" stroke-width="7.0" stroke-linecap="butt"/><path d="M629.1 826.4L659.1 844.9L629.1 863.4" stroke-width="4.8" stroke-linejoin="miter" stroke-linecap="butt"/><path d="M629.1 824.3L629.1 865.5" stroke-width="7.0" stroke-linecap="butt"/><path d="M778.8 724.8L808.8 743.3L778.8 761.8" stroke-width="4.8" stroke-linejoin="miter" stroke-linecap="butt"/><path d="M778.8 722.7L778.8 763.9" stroke-width="7.0" stroke-linecap="butt"/><path d="M928.5 630.8L958.5 649.3L928.5 667.8" stroke-width="4.8" stroke-linejoin="miter" stroke-linecap="butt"/><path d="M928.5 628.7L928.5 669.9" stroke-width="7.0" stroke-linecap="butt"/><path d="M1078.2 541.1L1108.2 559.6L1078.2 578.1" stroke-width="4.8" stroke-linejoin="miter" stroke-linecap="butt"/><path d="M1078.2 539L1078.2 580.2" stroke-width="7.0" stroke-linecap="butt"/><path d="M1227.9 454.1L1257.9 472.6L1227.9 491.1" stroke-width="4.8" stroke-linejoin="miter" stroke-linecap="butt"/><path d="M1227.9 452L1227.9 493.2" stroke-width="7.0" stroke-linecap="butt"/><path d="M1377.6 369L1407.6 387.5L1377.6 406" stroke-width="4.8" stroke-linejoin="miter" stroke-linecap="butt"/><path d="M1377.6 366.9L1377.6 408.1" stroke-width="7.0" stroke-linecap="butt"/><path d="M1527.3 285.3L1557.3 303.8L1527.3 322.3" stroke-width="4.8" stroke-linejoin="miter" stroke-linecap="butt"/><path d="M1527.3 283.2L1527.3 324.4" stroke-width="7.0" stroke-linecap="butt"/><path d="M1677 202.5L1707 221L1677 239.5" stroke-width="4.8" stroke-linejoin="miter" stroke-linecap="butt"/><path d="M1677 200.4L1677 241.6" stroke-width="7.0" stroke-linecap="butt"/><path d="M1826.7 120.5L1856.7 139L1826.7 157.5" stroke-width="4.8" stroke-linejoin="miter" stroke-linecap="butt"/><path d="M1826.7 118.4L1826.7 159.6" stroke-width="7.0" stroke-linecap="butt"/></g>
</g>
<text x="266.9" y="1280" font-size="57" text-anchor="middle" transform="translate(0 1280) scale(1 1.04) translate(0 -1280)">300</text>
<text x="466.5" y="1280" font-size="57" text-anchor="middle" transform="translate(0 1280) scale(1 1.04) translate(0 -1280)">400</text>
<text x="666.1" y="1280" font-size="57" text-anchor="middle" transform="translate(0 1280) scale(1 1.04) translate(0 -1280)">500</text>
<text x="865.7" y="1280" font-size="57" text-anchor="middle" transform="translate(0 1280) scale(1 1.04) translate(0 -1280)">600</text>
<text x="1065.3" y="1280" font-size="57" text-anchor="middle" transform="translate(0 1280) scale(1 1.04) translate(0 -1280)">700</text>
<text x="1264.9" y="1280" font-size="57" text-anchor="middle" transform="translate(0 1280) scale(1 1.04) translate(0 -1280)">800</text>
<text x="1464.5" y="1280" font-size="57" text-anchor="middle" transform="translate(0 1280) scale(1 1.04) translate(0 -1280)">900</text>
<text x="1664.1" y="1280" font-size="57" text-anchor="middle" transform="translate(0 1280) scale(1 1.04) translate(0 -1280)">1000</text>
<text x="1863.7" y="1280" font-size="57" text-anchor="middle" transform="translate(0 1280) scale(1 1.04) translate(0 -1280)">1100</text>
<text x="240.5" y="1226" font-size="57" text-anchor="end" transform="translate(0 1226) scale(1 1.04) translate(0 -1226)">0</text>
<text x="240.5" y="1113.2" font-size="57" text-anchor="end" transform="translate(0 1113.2) scale(1 1.04) translate(0 -1113.2)">100</text>
<text x="240.5" y="1000.4" font-size="57" text-anchor="end" transform="translate(0 1000.4) scale(1 1.04) translate(0 -1000.4)">200</text>
<text x="240.5" y="887.6" font-size="57" text-anchor="end" transform="translate(0 887.6) scale(1 1.04) translate(0 -887.6)">300</text>
<text x="240.5" y="774.8" font-size="57" text-anchor="end" transform="translate(0 774.8) scale(1 1.04) translate(0 -774.8)">400</text>
<text x="240.5" y="662" font-size="57" text-anchor="end" transform="translate(0 662) scale(1 1.04) translate(0 -662)">500</text>
<text x="240.5" y="549.2" font-size="57" text-anchor="end" transform="translate(0 549.2) scale(1 1.04) translate(0 -549.2)">600</text>
<text x="240.5" y="436.4" font-size="57" text-anchor="end" transform="translate(0 436.4) scale(1 1.04) translate(0 -436.4)">700</text>
<text x="240.5" y="323.6" font-size="57" text-anchor="end" transform="translate(0 323.6) scale(1 1.04) translate(0 -323.6)">800</text>
<text x="240.5" y="210.8" font-size="57" text-anchor="end" transform="translate(0 210.8) scale(1 1.04) translate(0 -210.8)">900</text>
<text x="240.5" y="98" font-size="57" text-anchor="end" transform="translate(0 98) scale(1 1.04) translate(0 -98)">1000</text>
<text x="796.1" y="1371.0" font-size="63" textLength="148.5" lengthAdjust="spacingAndGlyphs">Initial</text>
<text x="962.2" y="1371.0" font-size="63" textLength="216.4" lengthAdjust="spacingAndGlyphs">velocity,</text>
<text x="1194.4" y="1371.0" font-size="63" font-style="italic" textLength="27.3" lengthAdjust="spacingAndGlyphs">v</text>
<text x="1221.5" y="1386.8" font-size="44" font-style="italic" textLength="21.1" lengthAdjust="spacingAndGlyphs">0</text>
<text x="1251.8" y="1371.0" font-size="63" textLength="129.5" lengthAdjust="spacingAndGlyphs">(m/s)</text>
<g transform="rotate(-90)"><text x="-952.1" y="81.6" font-size="66" textLength="228.6" lengthAdjust="spacingAndGlyphs">Residual</text><text x="-700.8" y="81.6" font-size="66" textLength="230.0" lengthAdjust="spacingAndGlyphs">velocity,</text><text x="-453.1" y="81.4" font-size="66" font-style="italic" textLength="28.8" lengthAdjust="spacingAndGlyphs">v</text><text x="-425.9" y="108.8" font-size="45" font-style="italic" textLength="18.5" lengthAdjust="spacingAndGlyphs">r</text><text x="-375.5" y="82.0" font-size="66" textLength="143.0" lengthAdjust="spacingAndGlyphs">(m/s)</text></g>
<path d="M334 90.3H474" stroke="#000000" stroke-width="5.0"/>
<g fill="#fff"><path d="M404 72L422.2 90.3L404 108.5L385.8 90.3Z"/></g><g fill="none" stroke="#000000"><path d="M404 72L422.2 90.3L404 108.5L385.8 90.3Z" stroke-width="4.9" stroke-linejoin="miter"/></g>
<text x="486.6" y="109.9" font-size="57" textLength="104.1" lengthAdjust="spacingAndGlyphs">2.27</text>
<text x="608.6" y="109.9" font-size="57" textLength="116.2" lengthAdjust="spacingAndGlyphs">g/cm</text>
<text x="726.5" y="76.9" font-size="34" textLength="13.8" lengthAdjust="spacingAndGlyphs">3</text>
<path d="M334 177.2H474" stroke="#FF0000" stroke-width="5.0"/>
<g fill="#fff"><circle cx="404" cy="177.2" r="15.9"/></g><g fill="none" stroke="#FF0000"><circle cx="404" cy="177.2" r="15.9" stroke-width="6.8"/></g>
<text x="485.5" y="196.5" font-size="57" textLength="105.9" lengthAdjust="spacingAndGlyphs">3.16</text>
<text x="607.7" y="196.5" font-size="57" textLength="117.8" lengthAdjust="spacingAndGlyphs">g/cm</text>
<text x="726.3" y="163.5" font-size="34" textLength="15.1" lengthAdjust="spacingAndGlyphs">3</text>
<path d="M334 264H474" stroke="#0000FF" stroke-width="5.0"/>
<g fill="#fff"><path d="M404 244L385.5 274L422.5 274Z"/></g><g fill="none" stroke="#0000FF"><path d="M385.5 274L404 244L422.5 274" stroke-width="4.8" stroke-linejoin="miter" stroke-linecap="butt"/><path d="M383.4 274L424.6 274" stroke-width="7.0" stroke-linecap="butt"/></g>
<text x="487.7" y="283.1" font-size="57" textLength="103.8" lengthAdjust="spacingAndGlyphs">4.00</text>
<text x="608.1" y="283.1" font-size="57" textLength="117.4" lengthAdjust="spacingAndGlyphs">g/cm</text>
<text x="726.4" y="250.1" font-size="34" textLength="14.4" lengthAdjust="spacingAndGlyphs">3</text>
<path d="M334 350.9H474" stroke="#808000" stroke-width="5.0"/>
<g fill="#fff"><path d="M404 370.9L422.5 340.9L385.5 340.9Z"/></g><g fill="none" stroke="#808000"><path d="M422.5 340.9L404 370.9L385.5 340.9" stroke-width="4.8" stroke-linejoin="miter" stroke-linecap="butt"/><path d="M424.6 340.9L383.4 340.9" stroke-width="7.0" stroke-linecap="butt"/></g>
<text x="485.5" y="369.6" font-size="57" textLength="105.9" lengthAdjust="spacingAndGlyphs">5.00</text>
<text x="608.1" y="369.6" font-size="57" textLength="117.4" lengthAdjust="spacingAndGlyphs">g/cm</text>
<text x="726.4" y="336.6" font-size="34" textLength="14.4" lengthAdjust="spacingAndGlyphs">3</text>
<path d="M334 437.7H474" stroke="#FF8000" stroke-width="5.0"/>
<g fill="#fff"><rect x="391.4" y="425.1" width="25.2" height="25.2"/></g><g fill="none" stroke="#FF8000"><rect x="391.4" y="425.1" width="25.2" height="25.2" stroke-width="5.2" stroke-linejoin="miter"/></g>
<text x="485.5" y="456.2" font-size="57" textLength="107.1" lengthAdjust="spacingAndGlyphs">5.92</text>
<text x="608.1" y="456.2" font-size="57" textLength="117.4" lengthAdjust="spacingAndGlyphs">g/cm</text>
<text x="726.4" y="423.2" font-size="34" textLength="14.4" lengthAdjust="spacingAndGlyphs">3</text>
<path d="M334 524.6H474" stroke="#8000FF" stroke-width="5.0"/>
<g fill="#fff"><path d="M424 524.6L394 506.1L394 543.1Z"/></g><g fill="none" stroke="#8000FF"><path d="M394 506.1L424 524.6L394 543.1" stroke-width="4.8" stroke-linejoin="miter" stroke-linecap="butt"/><path d="M394 504L394 545.2" stroke-width="7.0" stroke-linecap="butt"/></g>
<text x="484.4" y="542.8" font-size="57" textLength="107.1" lengthAdjust="spacingAndGlyphs">7.80</text>
<text x="593.3" y="542.8" font-size="57" textLength="119.2" lengthAdjust="spacingAndGlyphs">g/cm</text>
<text x="713.2" y="509.8" font-size="34" textLength="15.8" lengthAdjust="spacingAndGlyphs">3</text>
</svg>
</body></html>
